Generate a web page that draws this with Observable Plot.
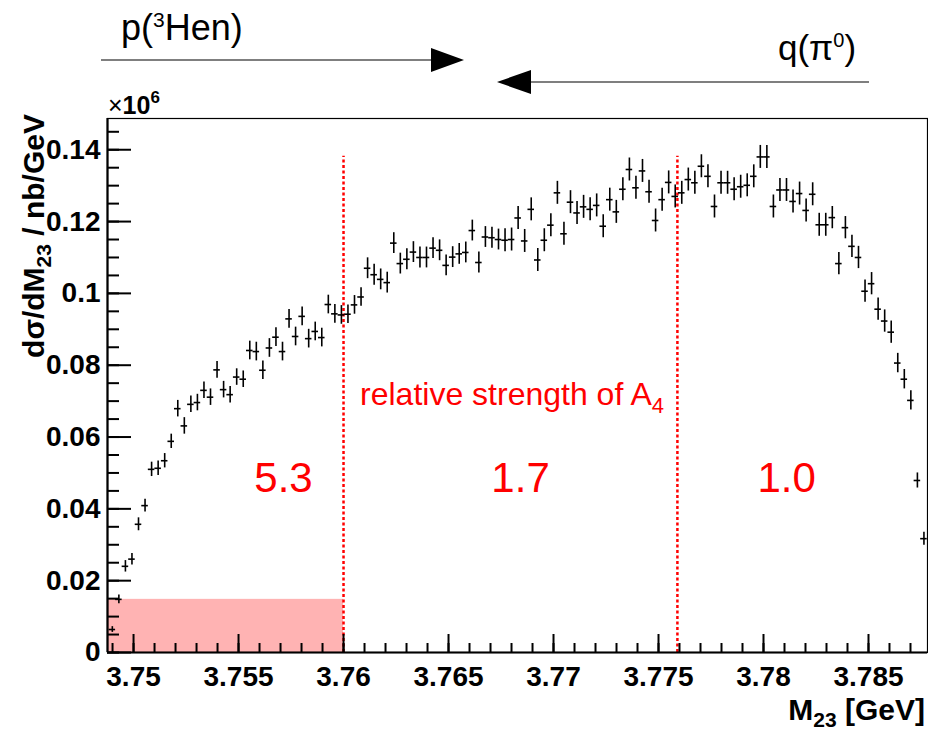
<!DOCTYPE html>
<html><head><meta charset="utf-8">
<script src="https://cdn.jsdelivr.net/npm/d3@7"></script>
<script src="https://cdn.jsdelivr.net/npm/@observablehq/plot@0.6"></script>
<style>body{margin:0;background:#fff;} svg{display:block}</style>
</head><body><div id="chart"></div>
<script>
// Histogram binning (GeV)
const binLow = 3.748834;
const binWidth = 0.0003117;

// dσ/dM23 in units of 10^6 nb/GeV, one value per bin
const sigma = [
  0.0064, 0.0148, 0.0240, 0.0260, 0.0357, 0.0409, 0.0510, 0.0513, 0.0534, 0.0588,
  0.0679, 0.0631, 0.0691, 0.0696, 0.0730, 0.0711, 0.0787, 0.0732, 0.0718, 0.0767,
  0.0761, 0.0841, 0.0838, 0.0786, 0.0848, 0.0878, 0.0838, 0.0929, 0.0880, 0.0936,
  0.0874, 0.0894, 0.0877, 0.0969, 0.0943, 0.0940, 0.0942, 0.0968, 0.0990, 0.1070,
  0.1052, 0.1039, 0.1030, 0.1140, 0.1083, 0.1095, 0.1115, 0.1100, 0.1100, 0.1126,
  0.1120, 0.1078, 0.1101, 0.1110, 0.1114, 0.1175, 0.1086, 0.1157, 0.1155, 0.1150,
  0.1148, 0.1150, 0.1210, 0.1146, 0.1234, 0.1093, 0.1148, 0.1190, 0.1280, 0.1166,
  0.1254, 0.1224, 0.1241, 0.1234, 0.1245, 0.1187, 0.1261, 0.1227, 0.1290, 0.1345,
  0.1294, 0.1341, 0.1283, 0.1203, 0.1261, 0.1309, 0.1270, 0.1280, 0.1317, 0.1308,
  0.1354, 0.1326, 0.1242, 0.1308, 0.1308, 0.1290, 0.1297, 0.1301, 0.1326, 0.1380,
  0.1380, 0.1242, 0.1288, 0.1288, 0.1256, 0.1278, 0.1231, 0.1276, 0.1191, 0.1191,
  0.1211, 0.1083, 0.1183, 0.1131, 0.1100, 0.1006, 0.1027, 0.0956, 0.0923, 0.0892,
  0.0806, 0.0761, 0.0702, 0.0479, 0.0317
];
const sigmaErr = [
  0.0008, 0.0012, 0.0016, 0.0016, 0.0018, 0.0018, 0.0020, 0.0020, 0.0020, 0.0020,
  0.0023, 0.0023, 0.0023, 0.0023, 0.0023, 0.0023, 0.0023, 0.0023, 0.0023, 0.0023,
  0.0023, 0.0026, 0.0026, 0.0026, 0.0026, 0.0026, 0.0026, 0.0026, 0.0026, 0.0026,
  0.0026, 0.0026, 0.0026, 0.0026, 0.0026, 0.0026, 0.0026, 0.0026, 0.0026, 0.0029,
  0.0029, 0.0029, 0.0029, 0.0029, 0.0029, 0.0029, 0.0029, 0.0029, 0.0029, 0.0029,
  0.0029, 0.0029, 0.0029, 0.0029, 0.0029, 0.0029, 0.0029, 0.0029, 0.0029, 0.0029,
  0.0032, 0.0032, 0.0032, 0.0032, 0.0032, 0.0032, 0.0032, 0.0032, 0.0032, 0.0032,
  0.0032, 0.0032, 0.0032, 0.0032, 0.0032, 0.0032, 0.0032, 0.0032, 0.0032, 0.0032,
  0.0032, 0.0032, 0.0032, 0.0032, 0.0032, 0.0032, 0.0032, 0.0032, 0.0032, 0.0032,
  0.0032, 0.0032, 0.0032, 0.0032, 0.0032, 0.0032, 0.0032, 0.0032, 0.0032, 0.0032,
  0.0032, 0.0032, 0.0032, 0.0032, 0.0032, 0.0032, 0.0032, 0.0032, 0.0032, 0.0032,
  0.0031, 0.0031, 0.0031, 0.0031, 0.0031, 0.0031, 0.0031, 0.0031, 0.0031, 0.0031,
  0.0027, 0.0027, 0.0027, 0.0021, 0.0018
];

// Axes
const xDomain = [3.74876, 3.78781];
const yDomain = [0, 0.1487];
const xMajor = [3.75, 3.755, 3.76, 3.765, 3.77, 3.775, 3.78, 3.785];
const yMajor = [0, 0.02, 0.04, 0.06, 0.08, 0.1, 0.12, 0.14];

// Regions of relative strength of A4
const regionBounds = [3.76, 3.7759];
const strengthLabels = ["5.3", "1.7", "1.0"];
const strengthLabelX = [3.75714, 3.76843, 3.78110];
const shadeTop = 0.0148;

const data = sigma.map((y, i) => ({x: binLow + (i + 0.5) * binWidth, y, e: sigmaErr[i]}));
const xMinor = d3.range(3749, 3788).map(v => v / 1000);
const yMinor = d3.range(0, 30).map(v => v * 0.005);

const W = 928, H = 736, mT = 118, mR = 1, mB = 84, mL = 107;
const plotW = W - mL - mR, plotH = H - mT - mB;
const FONT = "'Liberation Sans', Arial, Helvetica, sans-serif";

const chart = Plot.plot({
  width: W, height: H, marginTop: mT, marginRight: mR, marginBottom: mB, marginLeft: mL,
  style: {fontFamily: FONT, background: "white", color: "black", overflow: "visible"},
  x: {domain: xDomain},
  y: {domain: yDomain},
  marks: [
    Plot.rect([{x1: xDomain[0], x2: regionBounds[0], y1: 0, y2: shadeTop}], {x1: "x1", x2: "x2", y1: "y1", y2: "y2", fill: "#ffb3b3"}),
    Plot.axisX(xMajor, {anchor: "bottom", tickSize: 0, tickPadding: 14, fontSize: 28, fontWeight: "bold",
      tickFormat: d => String(+d.toFixed(3)), label: null}),
    Plot.axisY(yMajor, {anchor: "left", tickSize: 0, tickPadding: 7, fontSize: 28, fontWeight: "bold",
      tickFormat: d => String(+d.toFixed(2)), label: null}),
    Plot.ruleX(regionBounds, {x: d => d, y1: 0, y2: 0.1382, stroke: "#ff0000", strokeWidth: 2.5, strokeDasharray: "3,2.5"}),
    Plot.ruleX(data, {x: "x", y1: d => d.y - d.e, y2: d => d.y + d.e, stroke: "black", strokeWidth: 1.6}),
    Plot.ruleY(data, {y: "y", x1: d => d.x - binWidth / 2, x2: d => d.x + binWidth / 2, stroke: "black", strokeWidth: 1.6}),
    Plot.text(strengthLabels, {x: (d, i) => strengthLabelX[i], y: 0.0485, text: d => d, fill: "#ff0000", fontSize: 42}),
    Plot.frame({stroke: "black", strokeWidth: 1.2}),
    Plot.ruleX([xDomain[0]], {stroke: "black", strokeWidth: 2.2}),
    Plot.ruleY([0], {stroke: "black", strokeWidth: 2.2}),
    // inward ROOT-style ticks, drawn on top
    Plot.tickX(xMinor, {x: d => d, insetTop: plotH - 9, stroke: "#000", strokeWidth: 2}),
    Plot.tickX(xMajor, {x: d => d, insetTop: plotH - 18, stroke: "#000", strokeWidth: 2}),
    Plot.tickY(yMinor, {y: d => d, insetRight: plotW - 12, stroke: "#000", strokeWidth: 2}),
    Plot.tickY(yMajor, {y: d => d, insetRight: plotW - 24, stroke: "#000", strokeWidth: 2})
  ]
});
document.getElementById("chart").appendChild(chart);

const svg = d3.select(chart);
const xs = chart.scale("x"), ys = chart.scale("y");

// Annotations (titles with sub/superscripts, momentum arrows)
const g = svg.append("g").attr("font-family", FONT).attr("fill", "black").attr("text-anchor", "start");

// y title
const yt = g.append("text").attr("transform", "translate(44,114) rotate(-90)")
  .attr("text-anchor", "end").attr("font-size", 30).attr("font-weight", "bold");
yt.append("tspan").text("dσ/dM");
yt.append("tspan").attr("font-size", 21).attr("dy", 7).text("23");
yt.append("tspan").attr("dy", -7).text(" / nb/GeV");

// x title
const xt = g.append("text").attr("x", 925).attr("y", 720)
  .attr("text-anchor", "end").attr("font-size", 30).attr("font-weight", "bold");
xt.append("tspan").text("M");
xt.append("tspan").attr("font-size", 21).attr("dy", 7).text("23");
xt.append("tspan").attr("dy", -7).text(" [GeV]");

// ×10^6
const ex = g.append("text").attr("x", 108).attr("y", 114).attr("font-size", 25);
ex.append("tspan").text("×");
ex.append("tspan").attr("font-weight", "bold").text("10");
ex.append("tspan").attr("font-weight", "bold").attr("font-size", 17).attr("dy", -11).text("6");

// relative strength label
const rs = g.append("text").attr("x", xs.apply(3.76081)).attr("y", ys.apply(0.0688))
  .attr("font-size", 32).attr("fill", "#ff0000");
rs.append("tspan").text("relative strength of A");
rs.append("tspan").attr("font-size", 22).attr("dy", 8).text("4");

// p(3Hen)
const pt = g.append("text").attr("x", 121).attr("y", 40).attr("font-size", 36);
pt.append("tspan").text("p(");
pt.append("tspan").attr("font-size", 21).attr("dy", -13).text("3");
pt.append("tspan").attr("dy", 13).text("Hen)");

// q(pi0)
const qt = g.append("text").attr("x", 778).attr("y", 60).attr("font-size", 35);
qt.append("tspan").text("q(π");
qt.append("tspan").attr("font-size", 20).attr("dy", -13).text("0");
qt.append("tspan").attr("dy", 13).text(")");

// arrows
g.append("line").attr("x1", 101).attr("x2", 433).attr("y1", 60).attr("y2", 60).attr("stroke", "black").attr("stroke-width", 1.2);
g.append("path").attr("d", "M431,48L464,60L431,72Z").attr("fill", "black");
g.append("line").attr("x1", 869).attr("x2", 529).attr("y1", 82).attr("y2", 82).attr("stroke", "black").attr("stroke-width", 1.2);
g.append("path").attr("d", "M531,70L497,82L531,94Z").attr("fill", "black");
</script>
</body></html>
